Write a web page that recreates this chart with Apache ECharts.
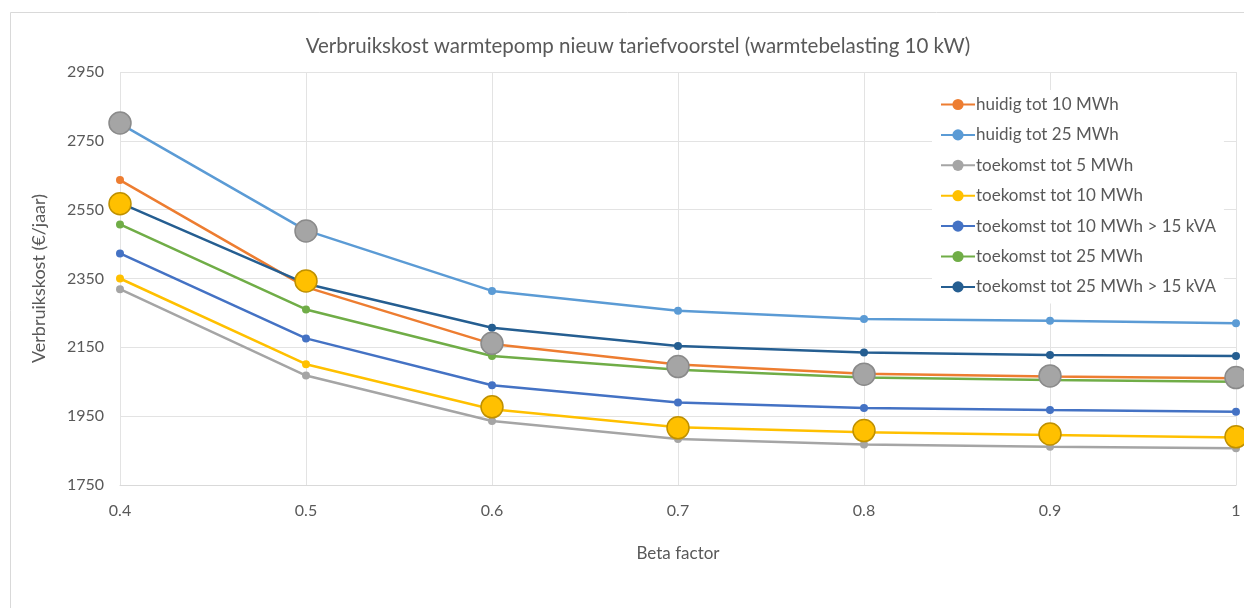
<!DOCTYPE html>
<html>
<head>
<meta charset="utf-8">
<script src="https://cdn.jsdelivr.net/npm/echarts@6/dist/echarts.min.js"></script>
<style>
  html, body { margin: 0; padding: 0; background: #fff; }
  #chart { width: 1244px; height: 608px; }
</style>
</head>
<body>
<div id="chart"></div>
<script>
// Beta factor on the horizontal axis
const betaFactors = ['0.4', '0.5', '0.6', '0.7', '0.8', '0.9', '1'];

// Yearly consumption cost (€/jaar) per tariff scenario
const huidig10 = [2636, 2325, 2160, 2100, 2073, 2065, 2060];
const huidig25 = [2800, 2490, 2314, 2256, 2232, 2227, 2220];
const toekomst5 = [2319, 2068, 1936, 1884, 1868, 1861, 1857];
const toekomst10 = [2350, 2101, 1970, 1918, 1903, 1895, 1888];
const toekomst10kva = [2423, 2176, 2040, 1990, 1974, 1968, 1963];
const toekomst25 = [2507, 2260, 2125, 2085, 2062, 2055, 2050];
const toekomst25kva = [2570, 2335, 2207, 2154, 2135, 2128, 2125];

// Highlight markers placed over the curves
const highlightGrey = [2802, 2488, 2162, 2094, 2072, 2067, 2062];
const highlightYellow = [2567, 2343, 1977, 1916, 1908, 1898, 1890];

// Y axis ticks
const yMin = 1750, yMax = 2950, yStep = 200;

const FONT = 'Lato';
const TEXT = '#595959';

const lineSeries = [
  ['huidig tot 10 MWh', huidig10, '#ED7D31'],
  ['huidig tot 25 MWh', huidig25, '#5B9BD5'],
  ['toekomst tot 5 MWh', toekomst5, '#A5A5A5'],
  ['toekomst tot 10 MWh', toekomst10, '#FFC000'],
  ['toekomst tot 10 MWh > 15 kVA', toekomst10kva, '#4472C4'],
  ['toekomst tot 25 MWh', toekomst25, '#70AD47'],
  ['toekomst tot 25 MWh > 15 kVA', toekomst25kva, '#255E91']
].map(([name, data, color]) => ({
  name,
  type: 'line',
  data,
  symbol: 'circle',
  symbolSize: 8,
  color,
  lineStyle: { width: 2.5, color },
  itemStyle: { color },
  emphasis: { disabled: true },
  z: 3
}));

function highlight(name, data, fill, border) {
  return {
    name,
    type: 'scatter',
    data,
    symbol: 'circle',
    symbolSize: 22,
    itemStyle: { color: fill, borderColor: border, borderWidth: 1.5, opacity: 1 },
    emphasis: { disabled: true },
    z: 5
  };
}

const chart = echarts.init(document.getElementById('chart'), null, { renderer: 'canvas' });
chart.setOption({
  animation: false,
  backgroundColor: '#ffffff',
  textStyle: { fontFamily: FONT },
  graphic: [{
    type: 'rect',
    shape: { x: 10.5, y: 12.5, width: 1260, height: 620 },
    style: { fill: 'none', stroke: '#d9d9d9', lineWidth: 1 },
    z: -1
  }],
  title: {
    text: 'Verbruikskost warmtepomp nieuw tariefvoorstel (warmtebelasting 10 kW)',
    left: 633,
    textAlign: 'center',
    top: 31,
    textStyle: { fontFamily: FONT, fontSize: 20.5, fontWeight: 'normal', color: TEXT }
  },
  legend: {
    orient: 'vertical',
    left: 932,
    top: 90,
    data: lineSeries.map(s => s.name),
    itemWidth: 34,
    itemHeight: 14,
    itemGap: 13.4,
    backgroundColor: '#ffffff',
    padding: [6, 8, 8, 8],
    textStyle: { fontFamily: FONT, fontSize: 17, color: TEXT, padding: [0, 0, 0, -4] }
  },
  grid: { left: 120, right: 8, top: 72, bottom: 123 },
  xAxis: {
    type: 'category',
    data: betaFactors,
    boundaryGap: false,
    name: 'Beta factor',
    nameLocation: 'middle',
    nameGap: 60,
    nameTextStyle: { fontFamily: FONT, fontSize: 17, color: TEXT },
    axisLine: { show: true, lineStyle: { color: '#d9d9d9' } },
    axisTick: { show: false },
    axisLabel: { fontFamily: FONT, fontSize: 16, color: TEXT, margin: 18 },
    splitLine: { show: true, lineStyle: { color: '#e3e3e3', width: 1 } }
  },
  yAxis: {
    type: 'value',
    min: yMin,
    max: yMax,
    interval: yStep,
    name: 'Verbruikskost (€/jaar)',
    nameLocation: 'middle',
    nameGap: 72,
    nameRotate: 90,
    nameTextStyle: { fontFamily: FONT, fontSize: 18, color: TEXT },
    axisLine: { show: false },
    axisTick: { show: false },
    axisLabel: { fontFamily: FONT, fontSize: 16, color: TEXT, margin: 16, formatter: v => String(v) },
    splitLine: { show: true, lineStyle: { color: '#e3e3e3', width: 1 } }
  },
  series: [
    ...lineSeries,
    highlight('markering grijs', highlightGrey, '#A5A5A5', '#8A8A8A'),
    highlight('markering geel', highlightYellow, '#FFC000', '#BF9000')
  ]
});
</script>
</body>
</html>
